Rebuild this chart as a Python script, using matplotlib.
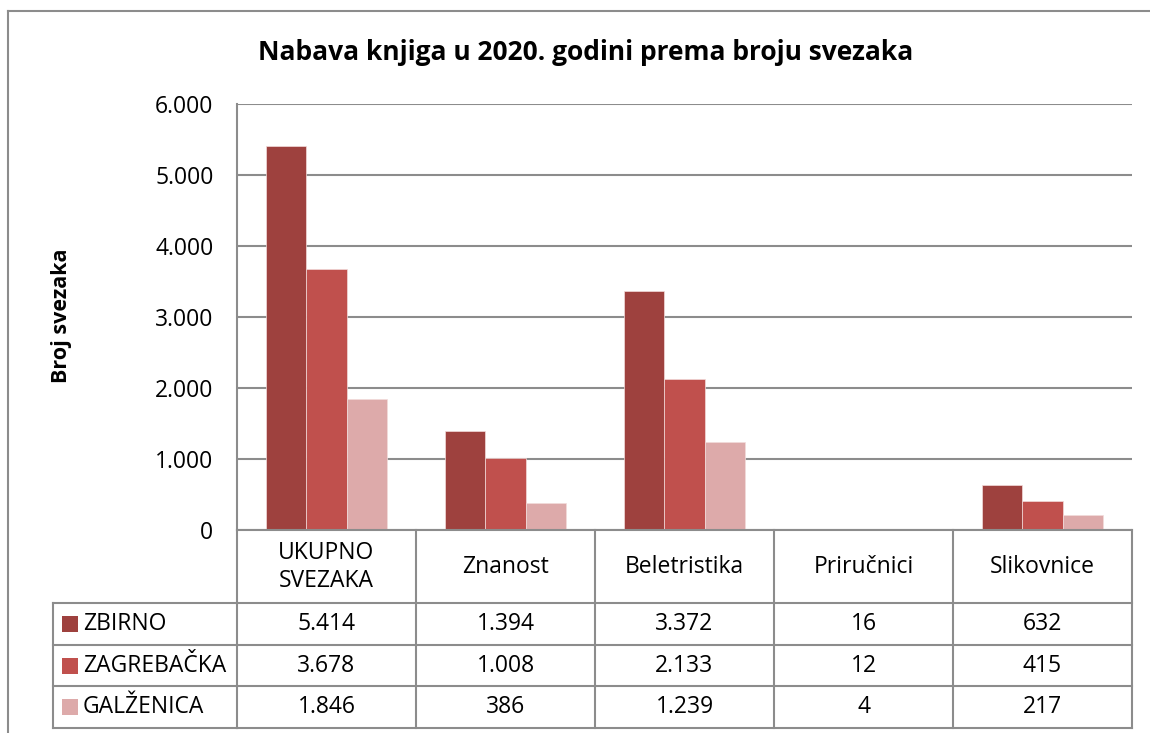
import matplotlib
matplotlib.use("Agg")
import matplotlib.pyplot as plt
import matplotlib.transforms as mtransforms
from matplotlib.lines import Line2D
from matplotlib.patches import Rectangle
import numpy as np

# ---------------- data ----------------
title = "Nabava knjiga u 2020. godini prema broju svezaka"
y_label = "Broj svezaka"
categories = ["UKUPNO\nSVEZAKA", "Znanost", "Beletristika", "Priručnici", "Slikovnice"]
series_names = ["ZBIRNO", "ZAGREBAČKA", "GALŽENICA"]
zbirno = [5414, 1394, 3372, 16, 632]
zagrebacka = [3678, 1008, 2133, 12, 415]
galzenica = [1846, 386, 1239, 4, 217]
y_ticks = [0, 1000, 2000, 3000, 4000, 5000, 6000]
colors = ["#9E413E", "#C0504D", "#DDAAAA"]

series = [zbirno, zagrebacka, galzenica]

def fmt(v):
    return f"{v:,}".replace(",", ".")

plt.rcParams['font.family'] = ['Open Sans', 'DejaVu Sans']

W, H = 1150, 733
fig = plt.figure(figsize=(W / 100, H / 100), dpi=100)

def fx(px):
    return px / W

def fy(py):
    return 1 - py / H

grid_c = "#8C8C8C"
tab_c = "#8C8C8C"
fs = 16.5

# main axes
ax = fig.add_axes([fx(237), fy(530), fx(1132) - fx(237), fy(104) - fy(530)])
n = len(categories)
x = np.arange(n)
bw = 0.2235
for i, (vals, c) in enumerate(zip(series, colors)):
    ax.bar(x + (i - 1) * bw, vals, width=bw, color=c, edgecolor="#F2DCDB",
           linewidth=0.5, zorder=3)
ax.set_xlim(-0.5, n - 0.5)
ax.set_ylim(0, 6000)
ax.set_yticks(y_ticks)
ax.set_yticklabels([fmt(t) for t in y_ticks], fontsize=fs, color="#000000")
ax.tick_params(axis='y', length=0, pad=17)
ax.set_xticks([])
ax.yaxis.grid(True, color=grid_c, linewidth=1.5, zorder=0)
for s in ["top", "right", "bottom"]:
    ax.spines[s].set_visible(False)
ax.spines["left"].set_color(grid_c)
ax.spines["left"].set_linewidth(1.5)

# title and y label
fig.text(fx(586), fy(53), title, ha="center", va="center", fontsize=19,
         fontweight="bold", color="#000000")
fig.text(fx(61), fy(316), y_label, ha="center", va="center", rotation=90,
         fontsize=15.5, fontweight="bold", color="#000000")

# outer frame
fig.add_artist(Line2D([fx(8), fx(8)], [fy(11), 0], color="#8C8C8C", lw=1.5,
                      transform=fig.transFigure))
fig.add_artist(Line2D([fx(8), 1], [fy(11), fy(11)], color="#8C8C8C", lw=1.5,
                      transform=fig.transFigure))

# data table
blend = mtransforms.blended_transform_factory(ax.transData, fig.transFigure)
row_tops = [530, 603, 645, 686, 728]
left_col = 53

for y in row_tops:
    fig.add_artist(Line2D([-0.5, n - 0.5], [fy(y), fy(y)], color=tab_c, lw=1.5,
                          transform=blend))
for y in row_tops[1:]:
    fig.add_artist(Line2D([fx(left_col), fx(237)], [fy(y), fy(y)], color=tab_c,
                          lw=1.5, transform=fig.transFigure))
for k in range(n + 1):
    fig.add_artist(Line2D([k - 0.5, k - 0.5], [fy(530), fy(728)], color=tab_c,
                          lw=1.5, transform=blend))
fig.add_artist(Line2D([fx(left_col), fx(left_col)], [fy(603), fy(728)],
                      color=tab_c, lw=1.5, transform=fig.transFigure))

# header category labels
for k, cat in enumerate(categories):
    fig.text(k, fy(567), cat, transform=blend, ha="center", va="center",
             fontsize=fs, linespacing=1.25, color="#000000")

# rows
for r, (name, vals, c) in enumerate(zip(series_names, series, colors)):
    yc = (row_tops[r + 1] + row_tops[r + 2]) / 2
    fig.add_artist(Rectangle((fx(62), fy(yc + 8)), fx(16), fy(0) - fy(16),
                             facecolor=c, edgecolor="none",
                             transform=fig.transFigure))
    fig.text(fx(83), fy(yc), name, ha="left", va="center", fontsize=fs,
             color="#000000")
    for k, v in enumerate(vals):
        fig.text(k, fy(yc), fmt(v), transform=blend, ha="center", va="center",
                 fontsize=fs, color="#000000")

fig.savefig("out.png", dpi=100)
